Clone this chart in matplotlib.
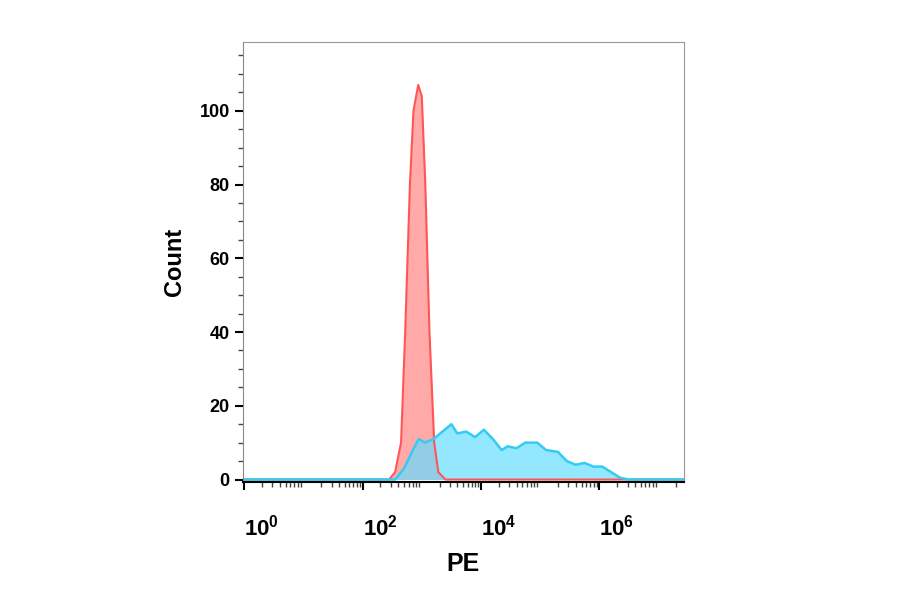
import numpy as np
import matplotlib
matplotlib.use('Agg')
import matplotlib.pyplot as plt
from matplotlib.ticker import LogLocator, MultipleLocator

plt.rcParams['font.family'] = ['Liberation Sans', 'DejaVu Sans']
plt.rcParams['font.weight'] = 'bold'
plt.rcParams['mathtext.fontset'] = 'custom'
plt.rcParams['mathtext.rm'] = 'Liberation Sans:bold'
plt.rcParams['mathtext.it'] = 'Liberation Sans:bold'
plt.rcParams['mathtext.bf'] = 'Liberation Sans:bold'

# control (red) histogram: log10(PE) vs count
red_logx = [-0.4, 2.45, 2.55, 2.65, 2.72, 2.8, 2.86, 2.94, 3.0, 3.06, 3.13, 3.21, 3.28, 3.4, 7.5]
red_y = [0, 0, 2, 10, 40, 80, 100, 107, 104, 80, 40, 10, 2, 0, 0]

# sample (blue) histogram
blue_logx = [-0.4, 2.55, 2.7, 2.85, 2.95, 3.05, 3.2, 3.35, 3.5, 3.6, 3.75, 3.9, 4.05, 4.2, 4.35,
             4.45, 4.6, 4.75, 4.95, 5.1, 5.3, 5.45, 5.6, 5.75, 5.9, 6.05, 6.2, 6.35, 6.5, 7.5]
blue_y = [0, 0, 3, 8, 11, 10, 11, 13, 15, 12.5, 13, 11.5, 13.5, 11, 8,
          9, 8.5, 10, 10, 8, 7.5, 5, 4, 4.5, 3.5, 3.5, 2, 0.5, 0, 0]

fig = plt.figure(figsize=(9, 5.94), dpi=100)
ax = fig.add_axes([0.27, 0.189, 0.49, 0.74])

rx = 10 ** np.array(red_logx)
bx = 10 ** np.array(blue_logx)
ax.fill_between(rx, red_y, color='#ff9a9a', alpha=0.85, lw=0)
ax.fill_between(bx, blue_y, color='#66ddff', alpha=0.7, lw=0)
ax.plot(rx, red_y, color='#ff5555', lw=1.5)
ax.plot(bx, blue_y, color='#33ccf2', lw=1.8)

ax.set_xscale('log')
ax.set_xlim(10 ** -0.02, 10 ** 7.43)
ax.set_ylim(-0.6, 118.6)
ax.xaxis.set_minor_locator(LogLocator(base=10, subs=np.arange(2, 10), numticks=20))
ax.set_xticks([1, 1e2, 1e4, 1e6])
# labels in the reference sit to the right of their ticks
ax.set_xticklabels([r'$10^0$', r'$10^2$', r'$10^4$', r'$10^6$'], ha='left', fontsize=16)
ax.set_yticks([0, 20, 40, 60, 80, 100])
ax.yaxis.set_minor_locator(MultipleLocator(5))
for lab in ax.get_yticklabels():
    lab.set_fontsize(13)

ax.tick_params(axis='both', which='major', length=6, width=1.5, color='black')
ax.tick_params(axis='both', which='minor', length=3.5, width=1, color='#444')
ax.tick_params(axis='x', pad=18)
for s in ax.spines.values():
    s.set_color('#999999')
ax.spines['bottom'].set_color('black')
ax.spines['bottom'].set_linewidth(1.5)
ax.spines['left'].set_color('#888888')

ax.set_xlabel('PE', fontsize=18, fontweight='bold', labelpad=8)
ax.set_ylabel('Count', fontsize=17, fontweight='bold', labelpad=10)

fig.savefig('out.png', dpi=100)
